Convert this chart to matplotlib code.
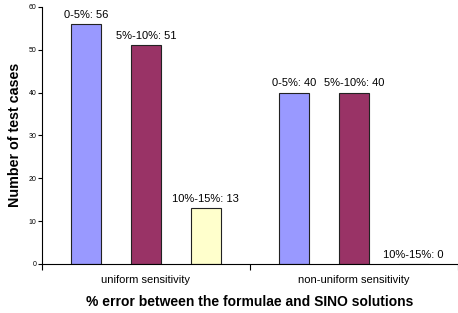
import matplotlib
matplotlib.use('Agg')
import matplotlib.pyplot as plt
import numpy as np

plt.rcParams['font.family'] = ['Liberation Sans', 'DejaVu Sans']

categories = ['uniform sensitivity', 'non-uniform sensitivity']
series = ['0-5%', '5%-10%', '10%-15%']
values = [[56, 40], [51, 40], [13, 0]]
colors = ['#9999FF', '#993366', '#FFFFCC']

fig = plt.figure(figsize=(4.58, 3.13), dpi=100)
ax = fig.add_axes([0.0917, 0.157, 0.9083, 0.821])

x = np.arange(len(categories))
width = 0.144
offsets = [-0.287, 0, 0.287]

for name, vals, col, off in zip(series, values, colors, offsets):
    bars = ax.bar(x + off, vals, width, color=col, edgecolor='#222222', linewidth=0.8)
    for b, v in zip(bars, vals):
        ax.annotate(f'{name}: {v}', (b.get_x() + b.get_width() / 2, v),
                    xytext=(0, 3), textcoords='offset points',
                    ha='center', va='bottom', fontsize=8)

ax.set_xlim(-0.5, 1.5)
ax.set_ylim(0, 60)
ax.set_yticks(range(0, 61, 10))
ax.tick_params(axis='y', labelsize=5, length=3, width=0.8, pad=1)

ax.set_xticks([-0.5, 0.5, 1.5])
ax.set_xticklabels([])
ax.set_xticks(x, minor=True)
ax.set_xticklabels(categories, minor=True, fontsize=8)
ax.tick_params(axis='x', which='major', length=4, width=0.8)
ax.tick_params(axis='x', which='minor', length=0, pad=8)

for s in ['top', 'right']:
    ax.spines[s].set_visible(False)
for s in ['left', 'bottom']:
    ax.spines[s].set_linewidth(0.8)

ax.set_ylabel('Number of test cases', fontsize=10.3, fontweight='bold', labelpad=5)
ax.set_xlabel('% error between the formulae and SINO solutions', fontsize=10, fontweight='bold', labelpad=7)

fig.savefig('out.png', dpi=100)
